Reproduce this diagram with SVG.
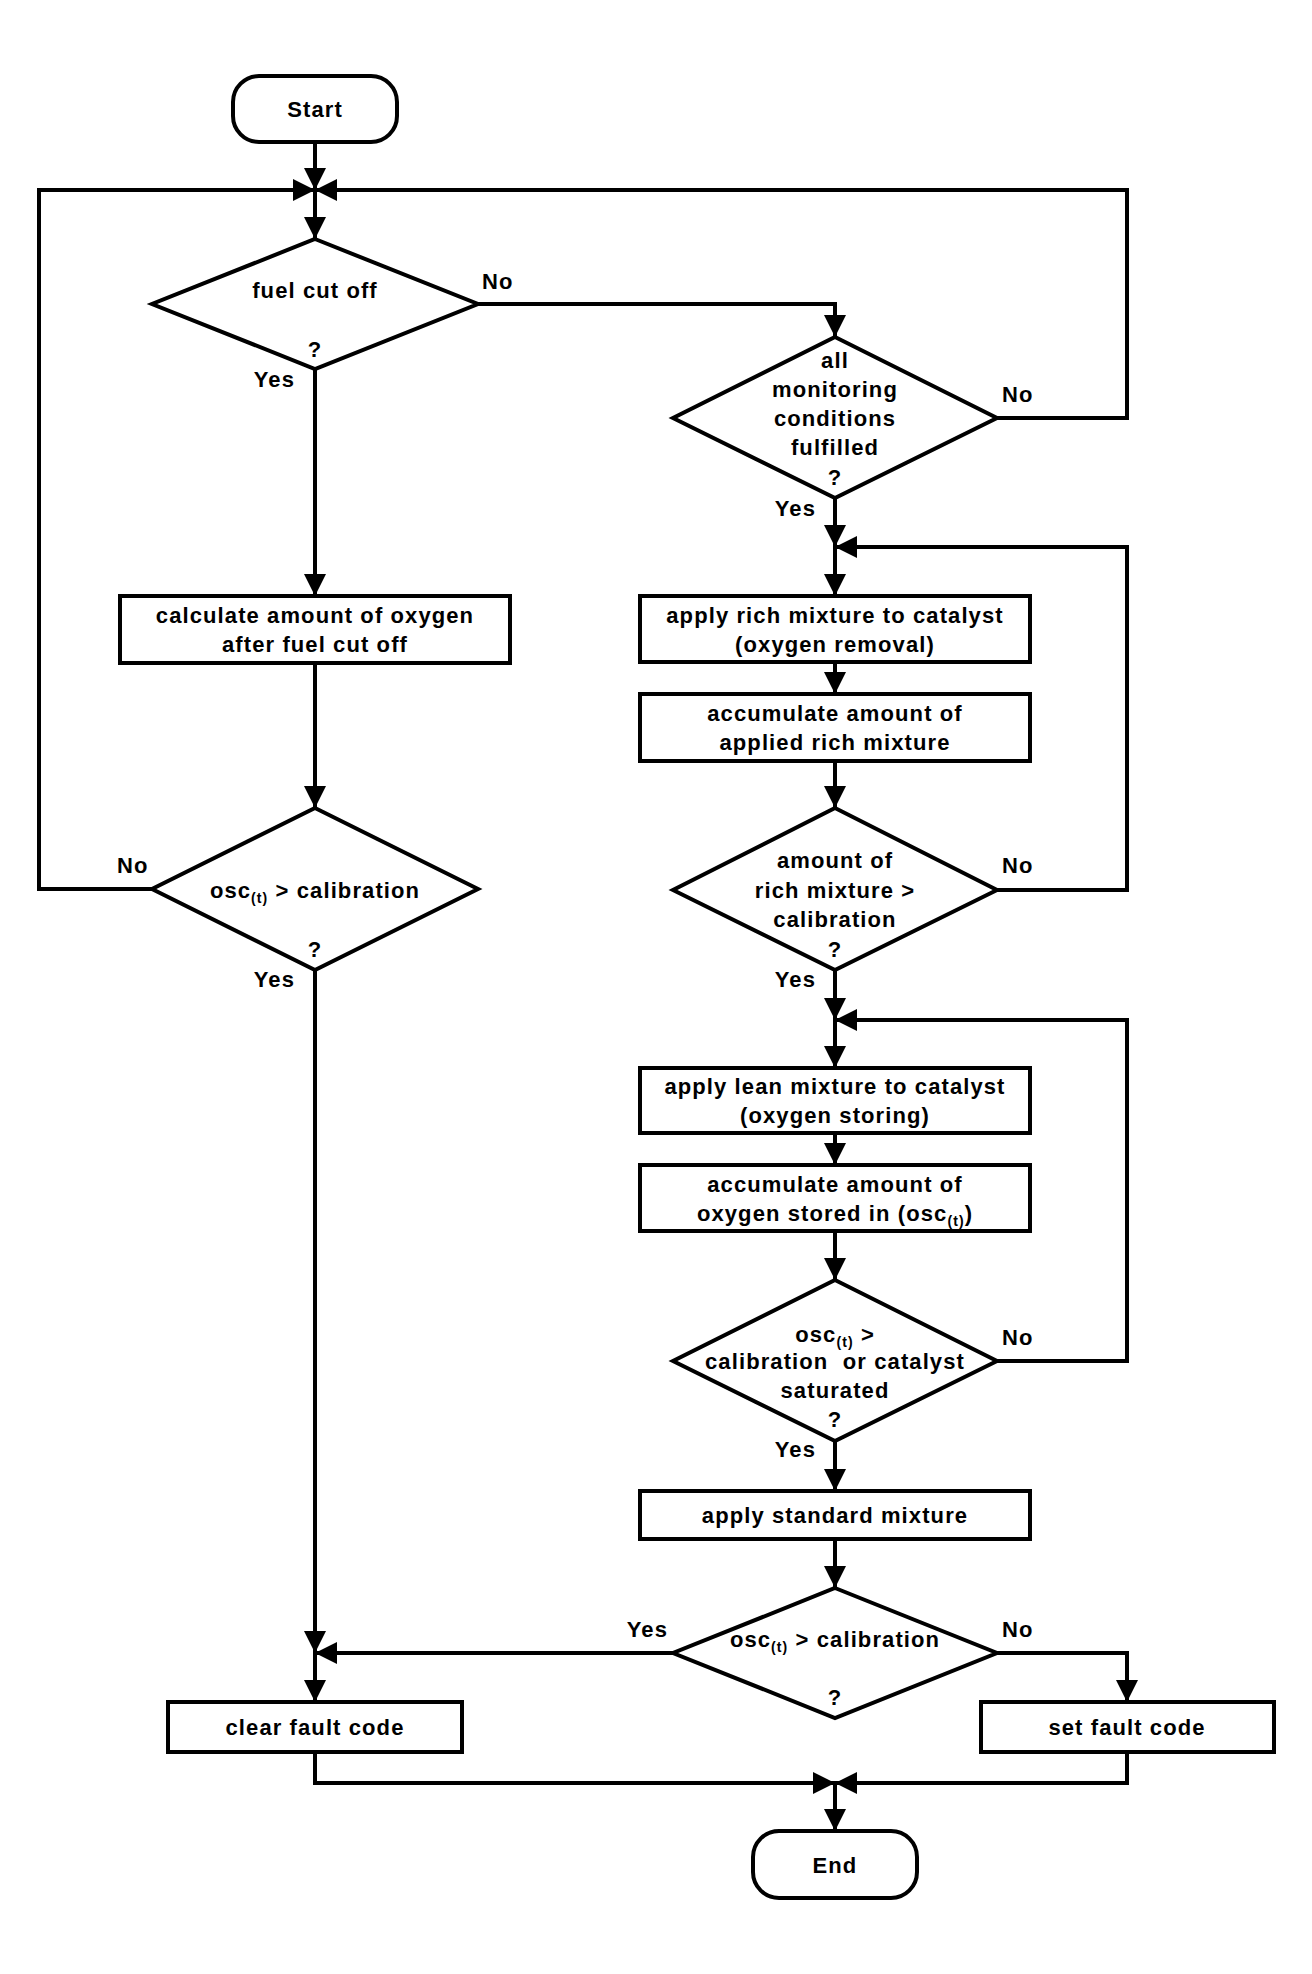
<svg xmlns="http://www.w3.org/2000/svg" width="1312" height="1974" viewBox="0 0 1312 1974">
<defs>
<style>
.n{fill:#fff;stroke:#000;stroke-width:4;stroke-linejoin:miter}
.c{fill:none;stroke:#000;stroke-width:4;marker-end:url(#ah)}
text{font-family:"Liberation Sans",Arial,Helvetica,sans-serif;font-size:22px;font-weight:bold;letter-spacing:1.1px;text-anchor:middle;fill:#000}
.l{text-anchor:start}
.r{text-anchor:end}
.sub{font-size:14px}
</style>
<marker id="ah" markerUnits="userSpaceOnUse" viewBox="0 0 22 22" markerWidth="22" markerHeight="22" refX="22" refY="11" orient="auto">
<path d="M0,0 L22,11 L0,22 z" fill="#000"/>
</marker>
</defs>
<rect width="1312" height="1974" fill="#fff"/>

<g id="connectors">
<path class="c" d="M315,142 V190"/>
<path class="c" d="M315,190 V239"/>
<path class="c" d="M478,304 H835 V337"/>
<path class="c" d="M315,369 V596"/>
<path class="c" d="M315,663 V808"/>
<path class="c" d="M153,889 H39 V190 H315"/>
<path class="c" d="M315,970 V1653"/>
<path class="c" d="M315,1653 V1702"/>
<path class="c" d="M997,418 H1127 V190 H315"/>
<path class="c" d="M835,498 V547"/>
<path class="c" d="M835,547 V596"/>
<path class="c" d="M835,662 V694"/>
<path class="c" d="M835,761 V808"/>
<path class="c" d="M997,890 H1127 V547 H835"/>
<path class="c" d="M835,970 V1020"/>
<path class="c" d="M835,1020 V1068"/>
<path class="c" d="M835,1133 V1165"/>
<path class="c" d="M835,1231 V1280"/>
<path class="c" d="M997,1361 H1127 V1020 H835"/>
<path class="c" d="M835,1441 V1491"/>
<path class="c" d="M835,1539 V1588"/>
<path class="c" d="M673,1653 H315"/>
<path class="c" d="M997,1653 H1127 V1702"/>
<path class="c" d="M315,1752 V1783 H835"/>
<path class="c" d="M1127,1752 V1783 H835"/>
<path class="c" d="M835,1783 V1831"/>
</g>

<g id="start">
<rect class="n" x="233" y="76" width="164" height="66" rx="26" ry="26"/>
<text x="315" y="117">Start</text>
</g>

<g id="fuel-cut-off">
<polygon class="n" points="315,239 478,304 315,369 152,304"/>
<text x="315" y="298">fuel cut off</text>
<text x="315" y="357">?</text>
<text class="l" x="482" y="289">No</text>
<text class="r" x="295" y="387">Yes</text>
</g>

<g id="calc-oxygen">
<rect class="n" x="120" y="596" width="390" height="67"/>
<text x="315" y="623">calculate amount of oxygen</text>
<text x="315" y="652">after fuel cut off</text>
</g>

<g id="osc-check-1">
<polygon class="n" points="315,808 478,889 315,970 152,889"/>
<text x="315" y="898">osc<tspan class="sub" dy="5">(t)</tspan><tspan dy="-5"> &gt; calibration</tspan></text>
<text x="315" y="957">?</text>
<text class="l" x="117" y="873">No</text>
<text class="r" x="295" y="987">Yes</text>
</g>

<g id="monitoring-conditions">
<polygon class="n" points="835,337 997,418 835,498 673,418"/>
<text x="835" y="368">all</text>
<text x="835" y="397">monitoring</text>
<text x="835" y="426">conditions</text>
<text x="835" y="455">fulfilled</text>
<text x="835" y="485">?</text>
<text class="l" x="1002" y="402">No</text>
<text class="r" x="816" y="516">Yes</text>
</g>

<g id="apply-rich">
<rect class="n" x="640" y="596" width="390" height="66"/>
<text x="835" y="623">apply rich mixture to catalyst</text>
<text x="835" y="652">(oxygen removal)</text>
</g>

<g id="accumulate-rich">
<rect class="n" x="640" y="694" width="390" height="67"/>
<text x="835" y="721">accumulate amount of</text>
<text x="835" y="750">applied rich mixture</text>
</g>

<g id="rich-check">
<polygon class="n" points="835,808 997,890 835,970 673,890"/>
<text x="835" y="868">amount of</text>
<text x="835" y="898">rich mixture &gt;</text>
<text x="835" y="927">calibration</text>
<text x="835" y="957">?</text>
<text class="l" x="1002" y="873">No</text>
<text class="r" x="816" y="987">Yes</text>
</g>

<g id="apply-lean">
<rect class="n" x="640" y="1068" width="390" height="65"/>
<text x="835" y="1094">apply lean mixture to catalyst</text>
<text x="835" y="1123">(oxygen storing)</text>
</g>

<g id="accumulate-oxygen">
<rect class="n" x="640" y="1165" width="390" height="66"/>
<text x="835" y="1192">accumulate amount of</text>
<text x="835" y="1221">oxygen stored in (osc<tspan class="sub" dy="5">(t)</tspan><tspan dy="-5">)</tspan></text>
</g>

<g id="osc-saturated-check">
<polygon class="n" points="835,1280 997,1361 835,1441 673,1361"/>
<text x="835" y="1342">osc<tspan class="sub" dy="5">(t)</tspan><tspan dy="-5"> &gt;</tspan></text>
<text x="835" y="1369" xml:space="preserve">calibration  or catalyst</text>
<text x="835" y="1398">saturated</text>
<text x="835" y="1427">?</text>
<text class="l" x="1002" y="1345">No</text>
<text class="r" x="816" y="1457">Yes</text>
</g>

<g id="apply-standard">
<rect class="n" x="640" y="1491" width="390" height="48"/>
<text x="835" y="1523">apply standard mixture</text>
</g>

<g id="osc-check-2">
<polygon class="n" points="835,1588 997,1653 835,1718 673,1653"/>
<text x="835" y="1647">osc<tspan class="sub" dy="5">(t)</tspan><tspan dy="-5"> &gt; calibration</tspan></text>
<text x="835" y="1705">?</text>
<text class="r" x="668" y="1637">Yes</text>
<text class="l" x="1002" y="1637">No</text>
</g>

<g id="clear-fault">
<rect class="n" x="168" y="1702" width="294" height="50"/>
<text x="315" y="1735">clear fault code</text>
</g>

<g id="set-fault">
<rect class="n" x="981" y="1702" width="293" height="50"/>
<text x="1127" y="1735">set fault code</text>
</g>

<g id="end">
<rect class="n" x="753" y="1831" width="164" height="67" rx="26" ry="26"/>
<text x="835" y="1873">End</text>
</g>
</svg>
